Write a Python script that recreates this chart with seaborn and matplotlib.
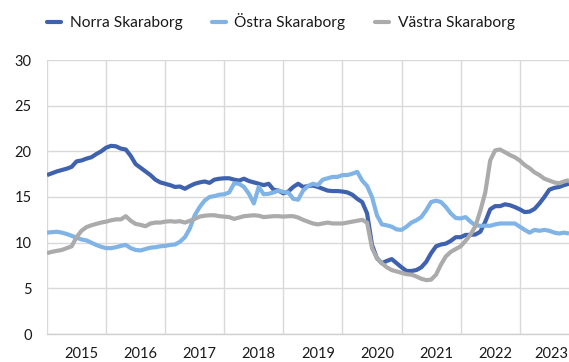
import numpy as np
import pandas as pd
import matplotlib
matplotlib.use("Agg")
import matplotlib.pyplot as plt
import seaborn as sns

# Monthly series per sub-region
series_names = ["Norra Skaraborg", "Östra Skaraborg", "Västra Skaraborg"]

norra = [
    17.4, 17.6, 17.8, 17.95, 18.1, 18.3, 18.9, 19.0, 19.2, 19.35,
    19.7, 20.0, 20.4, 20.6, 20.55, 20.3, 20.2, 19.5, 18.6, 18.2,
    17.8, 17.4, 16.9, 16.6, 16.45, 16.3, 16.1, 16.15, 15.9, 16.2,
    16.45, 16.6, 16.7, 16.55, 16.9, 17.0, 17.05, 17.05, 16.9, 16.8,
    17.0, 16.75, 16.6, 16.45, 16.3, 16.45, 15.8, 15.7, 15.4, 15.6,
    16.1, 16.45, 16.1, 16.2, 16.25, 16.1, 15.9, 15.7, 15.65, 15.65,
    15.6, 15.5, 15.25, 14.8, 14.45, 13.2, 9.75, 8.3, 7.75, 8.0,
    8.2, 7.75, 7.3, 6.9, 6.9, 7.0, 7.3, 7.9, 8.85, 9.6,
    9.8, 9.9, 10.2, 10.6, 10.6, 10.85, 10.85, 10.9, 11.2, 12.3,
    13.65, 14.0, 14.0, 14.2, 14.1, 13.9, 13.65, 13.35, 13.4, 13.7,
    14.3, 15.0, 15.8, 16.0, 16.1, 16.3, 16.45,
]

ostra = [
    11.1, 11.15, 11.2, 11.1, 10.95, 10.75, 10.55, 10.35, 10.25, 10.0,
    9.75, 9.55, 9.4, 9.4, 9.5, 9.65, 9.75, 9.4, 9.2, 9.15,
    9.3, 9.45, 9.5, 9.6, 9.65, 9.75, 9.8, 10.1, 10.6, 11.55,
    13.0, 13.9, 14.6, 15.0, 15.1, 15.25, 15.3, 15.5, 16.5, 16.45,
    16.1, 15.35, 14.3, 16.1, 15.3, 15.35, 15.5, 15.7, 15.55, 15.5,
    14.8, 14.7, 15.7, 16.2, 16.45, 16.3, 16.9, 17.05, 17.2, 17.2,
    17.4, 17.4, 17.55, 17.75, 16.8, 16.2, 15.0, 13.0, 12.0, 11.9,
    11.75, 11.45, 11.4, 11.75, 12.2, 12.45, 12.8, 13.55, 14.45, 14.6,
    14.45, 13.9, 13.2, 12.7, 12.65, 12.8, 12.3, 11.9, 11.85, 11.85,
    11.85, 12.0, 12.1, 12.1, 12.1, 12.1, 11.75, 11.4, 11.1, 11.4,
    11.3, 11.4, 11.3, 11.1, 11.0, 11.1, 11.0,
]

vastra = [
    8.85, 9.0, 9.1, 9.2, 9.4, 9.6, 10.6, 11.3, 11.7, 11.9,
    12.05, 12.2, 12.3, 12.45, 12.55, 12.55, 12.9, 12.4, 12.05, 11.95,
    11.8, 12.1, 12.2, 12.2, 12.3, 12.35, 12.3, 12.35, 12.2, 12.4,
    12.6, 12.85, 12.95, 13.0, 13.0, 12.9, 12.85, 12.8, 12.6, 12.75,
    12.9, 12.95, 13.0, 12.95, 12.8, 12.85, 12.9, 12.9, 12.85, 12.9,
    12.9, 12.75, 12.5, 12.3, 12.1, 12.0, 12.1, 12.2, 12.1, 12.1,
    12.1, 12.2, 12.3, 12.4, 12.5, 12.2, 9.4, 8.3, 7.75, 7.3,
    7.0, 6.85, 6.7, 6.55, 6.5, 6.3, 6.05, 5.9, 5.95, 6.5,
    7.6, 8.5, 9.0, 9.3, 9.6, 10.2, 10.9, 11.8, 13.5, 15.5,
    19.0, 20.1, 20.2, 19.9, 19.6, 19.35, 19.0, 18.5, 18.15, 17.7,
    17.4, 17.0, 16.8, 16.6, 16.5, 16.7, 16.85,
]

year_labels = ["2015", "2016", "2017", "2018", "2019", "2020", "2021", "2022", "2023"]
y_ticks = [0, 5, 10, 15, 20, 25, 30]

colors = {
    "Norra Skaraborg": "#3F62AF",
    "Östra Skaraborg": "#80B4E6",
    "Västra Skaraborg": "#ABABAB",
}

months = np.arange(len(norra))
df = pd.concat(
    [
        pd.DataFrame({"månad": months, "värde": vals, "område": name})
        for name, vals in zip(series_names, [norra, ostra, vastra])
    ],
    ignore_index=True,
)

sns.set_theme(style="white")
plt.rcParams["font.family"] = ["Lato", "DejaVu Sans"]

fig = plt.figure(figsize=(5.69, 3.62), dpi=100)
ax = fig.add_axes([47 / 569, 28 / 362, 1 - 47 / 569, 274 / 362])

sns.lineplot(
    data=df, x="månad", y="värde", hue="område", hue_order=series_names,
    palette=colors, linewidth=3.0, ax=ax, legend=False,
)
for line in ax.lines:
    line.set_solid_capstyle("butt")
    line.set_solid_joinstyle("round")

ax.set_xlim(0, months[-1])
ax.set_ylim(0, 30)

# year boundaries as grid, year labels in between (kept inside the right edge)
ax.set_xticks(np.arange(0, months[-1] + 1, 12))
ax.set_xticklabels([])
label_pos = np.minimum(7 + 12 * np.arange(len(year_labels)), months[-1] - 3.6)
ax.set_xticks(label_pos, labels=year_labels, minor=True)
ax.set_yticks(y_ticks)
ax.set_yticklabels([str(v) for v in y_ticks])

ax.grid(True, which="major", color="#D9D9D9", linewidth=1.0)
ax.grid(False, which="minor")
ax.set_axisbelow(True)
ax.tick_params(axis="both", which="both", length=0, labelsize=10.5, colors="#1a1a1a")
ax.tick_params(axis="y", pad=11)
ax.tick_params(axis="x", which="minor", pad=9.5)
ax.set_xlabel("")
ax.set_ylabel("")
for side in ["top", "right", "left"]:
    ax.spines[side].set_visible(False)
ax.spines["bottom"].set_color("#D0D0D0")
ax.spines["bottom"].set_linewidth(1.0)

handles = [plt.Line2D([0], [0], color=colors[n], linewidth=3.0) for n in series_names]
fig.legend(
    handles, series_names, loc="center left", bbox_to_anchor=(47 / 569, 1 - 21.5 / 362),
    ncol=3, frameon=False, fontsize=11.2, handlelength=0.9, handletextpad=0.55,
    columnspacing=1.9, borderpad=0, borderaxespad=0, labelcolor="#1a1a1a",
)

fig.savefig("out.png", dpi=100)
